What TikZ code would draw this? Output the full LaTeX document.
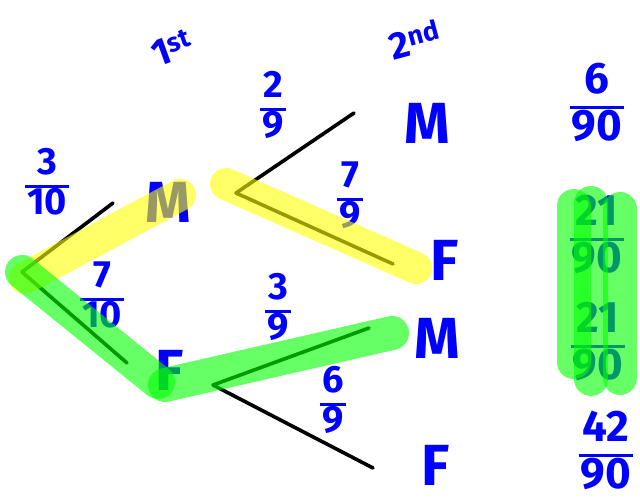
\documentclass[tikz,border=0pt]{standalone}
\usepackage{fontspec}
\setmainfont{Fira Sans}
\definecolor{cpen}{HTML}{0000FF}
\definecolor{cyel}{HTML}{FFFF00}
\definecolor{cgrn}{HTML}{00FF00}
\setlength{\arrayrulewidth}{3pt}
\renewcommand{\arraystretch}{0.82}
\newcommand{\frc}[2]{\begin{tabular}{@{\hspace{2pt}}c@{\hspace{2pt}}}#1\\\hline #2\end{tabular}}

\begin{document}
\begin{tikzpicture}[x=1pt,y=-1pt,
  lbl/.style={text=cpen,font=\fontsize{58}{60}\selectfont\bfseries,inner sep=0pt},
  prob/.style={text=cpen,font=\fontsize{38}{44}\selectfont\bfseries,inner sep=0pt},
  res/.style={text=cpen,font=\fontsize{44}{54}\selectfont\bfseries,inner sep=0pt},
  head/.style={text=cpen,font=\fontsize{38}{40}\selectfont\bfseries,inner sep=0pt},
  branch/.style={line width=3.6pt,black,line cap=round},
  hly/.style={line width=32pt,line cap=round,cyel,opacity=.6},
  hlg/.style={line width=34pt,line cap=round,cgrn,opacity=.6}]
  \useasboundingbox (0,0) rectangle (640,502);

  % headings
  \node[head,rotate=20] (first) at (172,48) {1\textsuperscript{st}};
  \node[head,rotate=15] (second) at (415,40) {2\textsuperscript{nd}};

  % tree
  \coordinate (root) at (22,272);
  \coordinate (upA) at (113,203);
  \coordinate (dnA) at (127,363);
  \node[lbl] (m1) at (168,202) {M};
  \node[lbl] (f1) at (170,370) {F};

  \coordinate (forkM) at (236,193);
  \coordinate (upB) at (354,113);
  \coordinate (dnB) at (393,264);
  \node[lbl] (mm) at (427,123) {M};
  \node[lbl] (mf) at (445,260) {F};

  \coordinate (forkF) at (213,385);
  \coordinate (upC) at (369,328);
  \coordinate (dnC) at (373,468);
  \node[lbl] (fm) at (437,338) {M};
  \node[lbl] (ff) at (436,465) {F};

  \draw[branch] (root) -- (upA);
  \draw[branch] (root) -- (dnA);
  \draw[branch] (forkM) -- (upB);
  \draw[branch] (forkM) -- (dnB);
  \draw[branch] (forkF) -- (upC);
  \draw[branch] (forkF) -- (dnC);

  % probabilities
  \node[prob] (pM) at (47,187) {\frc{3}{10}};
  \node[prob] (pF) at (102,300) {\frc{7}{10}};
  \node[prob] (pMM) at (273,110) {\frc{2}{9}};
  \node[prob] (pMF) at (350,200) {\frc{7}{9}};
  \node[prob] (pFM) at (278,312) {\frc{3}{9}};
  \node[prob] (pFF) at (333,405) {\frc{6}{9}};

  % results
  \node[res] (rMM) at (597,108) {\frc{6}{90}};
  \node[res] (rMF) at (597,240) {\frc{21}{90}};
  \node[res] (rFM) at (598,347) {\frc{21}{90}};
  \node[res] (rFF) at (606,456) {\frc{42}{90}};

  % highlighter
  \draw[hly] (25,278) -- (180,195);
  \draw[hly] (226,184) -- (416,268);
  \draw[hlg] (root) -- (158,382);
  \draw[hlg] (165,385) -- (392,333);
  \draw[hlg] (573.5,206) -- (573.5,362);
  \draw[hlg] (591,203) -- (591,379);
  \draw[hlg] (620,209) -- (620,378);
\end{tikzpicture}
\end{document}
